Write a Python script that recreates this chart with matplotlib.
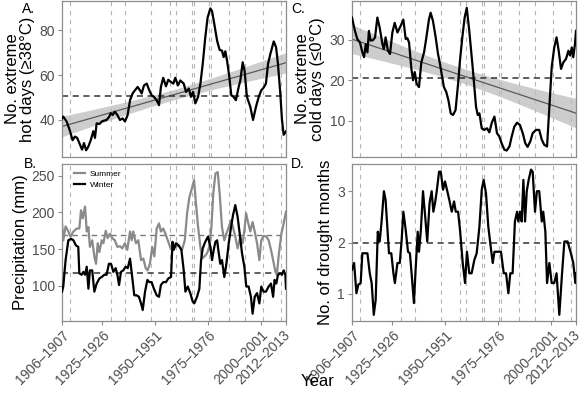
import numpy as np
import matplotlib
matplotlib.use("Agg")
import matplotlib.pyplot as plt
from matplotlib.transforms import ScaledTranslation

plt.rcParams['font.family'] = ['Liberation Sans', 'DejaVu Sans']

# ---------------- data ----------------
hot_years = [1906.0, 1906.6, 1908.2, 1909.8, 1911.0, 1912.1, 1913.2, 1914.5, 1915.5, 1916.4, 1917.4, 1918.5,
             1919.6, 1920.8, 1921.6, 1922.4, 1923.7, 1924.8, 1925.9, 1927.1, 1928.4, 1929.0, 1930.0, 1931.0,
             1932.2, 1933.4, 1934.7, 1935.8, 1937.0, 1938.2, 1939.4, 1940.5, 1941.8, 1942.9, 1943.7, 1944.8,
             1946.1, 1947.3, 1948.4, 1949.5, 1950.8, 1951.9, 1952.8, 1953.9, 1955.2, 1956.3, 1957.6, 1958.7,
             1959.6, 1960.9, 1962.0, 1963.6, 1964.7, 1966.0, 1967.0, 1968.0, 1969.1, 1970.4, 1971.5, 1972.6,
             1973.8, 1974.9, 1976.2, 1977.0, 1978.1, 1979.4, 1980.6, 1981.7, 1982.5, 1983.3, 1984.1, 1985.2,
             1986.1, 1987.2, 1988.3, 1989.6, 1990.4, 1991.5, 1992.4, 1993.5, 1995.1, 1996.4, 1997.8, 1999.1,
             2000.3, 2001.4, 2002.5, 2003.5, 2004.6, 2006.2, 2007.3, 2008.2, 2009.3, 2010.1, 2010.9, 2012.0]
hot_days = [40.7, 41.5, 39.3, 35.0, 31.0, 32.6, 32.0, 29.0, 26.8, 29.7, 26.5, 28.2,
            31.0, 35.0, 32.0, 38.5, 38.2, 39.3, 39.7, 40.0, 41.5, 43.0, 42.2, 43.7,
            42.2, 40.0, 40.7, 39.3, 42.0, 48.8, 51.8, 53.2, 54.7, 53.2, 51.8, 55.4,
            56.2, 53.2, 51.0, 50.3, 48.8, 46.6, 54.7, 58.8, 55.0, 57.9, 56.9, 56.2,
            58.8, 55.4, 57.6, 56.2, 52.5, 54.0, 50.3, 52.5, 47.4, 50.3, 56.2, 65.0,
            76.8, 85.6, 89.7, 88.5, 82.6, 75.3, 71.2, 70.9, 68.0, 70.6, 66.5, 59.1,
            51.0, 50.3, 48.8, 54.7, 57.6, 65.7, 62.0, 50.3, 45.9, 40.0, 45.9, 50.3,
            53.2, 54.4, 56.2, 65.0, 69.4, 75.0, 72.4, 65.0, 51.8, 40.0, 33.4, 34.9]

cold_years = [1906.0, 1907.4, 1908.5, 1909.8, 1910.9, 1911.7, 1912.5, 1913.3, 1914.0, 1914.8, 1915.9, 1916.9,
              1918.0, 1919.1, 1920.4, 1921.1, 1921.9, 1923.0, 1924.0, 1925.1, 1926.2, 1927.5, 1929.0, 1930.3,
              1931.4, 1932.2, 1933.0, 1934.1, 1934.9, 1935.7, 1936.6, 1937.7, 1938.8, 1940.1, 1941.2, 1942.4,
              1943.2, 1944.3, 1945.6, 1946.7, 1947.5, 1948.4, 1949.5, 1950.6, 1951.6, 1952.7, 1953.8, 1955.0,
              1956.2, 1957.1, 1958.2, 1959.3, 1960.3, 1961.5, 1963.1, 1964.7, 1965.5, 1966.3, 1967.4, 1968.6,
              1969.9, 1971.0, 1972.1, 1973.4, 1974.6, 1975.7, 1976.8, 1978.1, 1979.2, 1980.5, 1981.6, 1982.8,
              1984.1, 1985.5, 1986.8, 1988.0, 1989.1, 1990.4, 1991.5, 1993.1, 1994.6, 1995.8, 1997.0, 1998.3,
              1999.4, 2000.5, 2001.7, 2002.8, 2003.8, 2004.9, 2006.0, 2007.3, 2008.4, 2009.2, 2010.0, 2010.7,
              2011.5, 2012.0]
cold_days = [35.5, 32.2, 30.2, 29.3, 26.9, 25.7, 28.9, 26.9, 32.2, 29.8, 29.9, 30.6,
             35.5, 33.0, 28.9, 27.7, 30.6, 27.3, 26.5, 31.8, 34.2, 31.8, 33.4, 35.0,
             30.2, 30.4, 29.3, 22.8, 20.0, 22.0, 19.1, 18.3, 24.4, 26.9, 30.6, 35.0,
             36.7, 34.7, 30.6, 26.5, 24.4, 21.6, 18.3, 17.1, 15.1, 11.8, 11.4, 12.6,
             19.1, 24.9, 30.6, 35.5, 37.9, 32.2, 23.2, 13.4, 11.4, 11.8, 8.1, 7.7,
             8.1, 7.1, 9.4, 11.0, 6.9, 6.1, 4.4, 2.8, 2.6, 3.6, 6.1, 8.5,
             9.5, 8.9, 6.9, 4.4, 3.5, 4.9, 6.9, 7.7, 7.7, 5.3, 4.0, 3.6,
             13.4, 23.2, 28.1, 30.6, 27.3, 22.8, 24.4, 25.3, 27.3, 26.1, 28.1, 25.7,
             28.9, 32.2]

summer_years = [1906.0, 1906.6, 1907.7, 1909.0, 1910.0, 1911.4, 1913.0, 1914.2, 1915.0, 1915.8, 1916.9, 1917.7,
                1918.5, 1919.2, 1920.3, 1921.3, 1922.1, 1922.9, 1923.7, 1924.8, 1925.6, 1926.7, 1927.6, 1928.7,
                1929.8, 1931.0, 1932.2, 1933.4, 1934.5, 1935.8, 1936.9, 1938.2, 1939.0, 1939.7, 1941.0, 1942.1,
                1943.4, 1944.5, 1945.6, 1946.5, 1947.6, 1948.7, 1949.7, 1950.8, 1951.9, 1952.8, 1953.9, 1955.2,
                1956.3, 1957.4, 1958.7, 1959.6, 1961.2, 1962.8, 1964.1, 1965.2, 1966.3, 1967.5, 1968.5, 1969.4,
                1970.4, 1971.5, 1972.3, 1973.4, 1974.6, 1975.7, 1976.7, 1977.6, 1978.6, 1979.7, 1980.6, 1981.7,
                1982.8, 1983.8, 1984.9, 1986.0, 1986.9, 1988.0, 1989.1, 1990.4, 1991.5, 1992.4, 1993.1, 1994.0,
                1995.1, 1996.2, 1997.2, 1998.3, 1999.4, 2000.3, 2001.4, 2002.7, 2003.8, 2004.9, 2005.9, 2007.0,
                2007.7, 2008.5, 2009.8, 2010.9, 2012.0]
summer_precip = [185, 162, 181, 174, 167, 174, 178, 178, 203, 192, 208, 174,
                 180, 153, 162, 140, 130, 158, 146, 162, 158, 175, 165, 171,
                 165, 162, 153, 154, 151, 158, 149, 174, 162, 174, 158, 162,
                 135, 137, 124, 121, 130, 153, 140, 178, 185, 174, 178, 169,
                 160, 151, 158, 153, 155, 149, 162, 199, 221, 233, 244, 212,
                 180, 153, 137, 140, 144, 153, 180, 226, 253, 255, 226, 180,
                 162, 171, 180, 189, 180, 167, 151, 167, 158, 178, 199, 187,
                 174, 187, 174, 158, 135, 162, 168, 167, 162, 149, 135, 119,
                 115, 140, 171, 185, 201]

winter_years = [1906.0, 1906.6, 1907.7, 1909.0, 1910.3, 1911.4, 1912.6, 1913.7, 1914.2, 1915.3, 1916.1, 1916.9,
                1917.7, 1918.5, 1919.2, 1920.3, 1921.3, 1922.4, 1923.7, 1924.8, 1926.0, 1927.1, 1928.2, 1929.2,
                1930.3, 1931.4, 1932.2, 1933.0, 1933.9, 1935.0, 1936.1, 1937.1, 1938.2, 1939.3, 1940.2, 1941.3,
                1942.4, 1943.4, 1944.2, 1945.3, 1946.4, 1947.3, 1948.4, 1949.5, 1950.8, 1951.9, 1952.8, 1953.9,
                1955.2, 1956.3, 1957.6, 1958.3, 1958.9, 1960.0, 1961.2, 1962.5, 1963.6, 1964.4, 1965.5, 1966.7,
                1967.8, 1968.6, 1969.9, 1971.0, 1971.8, 1972.6, 1973.8, 1975.1, 1976.2, 1977.0, 1977.8, 1978.6,
                1979.4, 1980.1, 1980.9, 1981.7, 1982.8, 1983.8, 1984.9, 1986.0, 1986.9, 1988.0, 1989.1, 1990.1,
                1991.2, 1992.3, 1993.2, 1994.3, 1995.4, 1996.2, 1997.2, 1998.3, 1999.4, 2000.3, 2001.4, 2002.5,
                2003.8, 2004.9, 2005.9, 2006.6, 2007.4, 2008.2, 2009.3, 2010.1, 2010.9, 2011.7, 2012.0]
winter_precip = [92, 99, 135, 162, 164, 162, 155, 153, 117, 115, 119, 115,
                 126, 96, 121, 121, 92, 103, 110, 112, 115, 115, 130, 130,
                 119, 124, 115, 101, 119, 121, 126, 124, 137, 110, 87, 87,
                 85, 76, 67, 92, 108, 105, 105, 96, 87, 85, 101, 105,
                 105, 110, 112, 160, 149, 158, 155, 149, 121, 92, 99, 90,
                 79, 76, 85, 96, 135, 151, 160, 167, 153, 135, 149, 160,
                 162, 146, 130, 135, 112, 130, 158, 180, 196, 210, 194, 171,
                 144, 126, 99, 99, 85, 62, 85, 90, 76, 99, 92, 92,
                 99, 103, 85, 108, 103, 115, 117, 115, 121, 115, 96]

drought_years = [1906.0, 1907.0, 1908.1, 1909.0, 1910.1, 1910.9, 1912.2, 1913.3, 1914.4, 1915.3, 1916.3, 1917.2,
                 1918.2, 1919.1, 1920.0, 1921.1, 1921.9, 1922.7, 1923.5, 1924.6, 1925.6, 1926.3, 1927.5, 1928.6,
                 1929.5, 1930.3, 1931.4, 1932.5, 1933.4, 1934.2, 1935.3, 1936.1, 1937.1, 1937.7, 1938.6, 1939.6,
                 1940.5, 1941.6, 1942.7, 1943.7, 1944.5, 1945.3, 1946.1, 1947.2, 1948.0, 1949.1, 1950.0, 1951.1,
                 1952.2, 1953.2, 1954.3, 1955.1, 1956.2, 1957.1, 1958.4, 1959.5, 1960.4, 1961.5, 1962.6, 1963.9,
                 1965.0, 1966.3, 1967.4, 1968.3, 1969.4, 1970.5, 1971.8, 1972.6, 1973.4, 1974.9, 1976.5, 1977.8,
                 1978.9, 1980.0, 1980.9, 1982.0, 1983.1, 1984.1, 1984.7, 1985.5, 1986.3, 1987.1, 1987.9, 1988.7,
                 1989.6, 1990.7, 1991.5, 1992.6, 1993.5, 1994.6, 1995.8, 1996.5, 1997.5, 1998.3, 1999.4, 2000.5,
                 2001.7, 2002.8, 2004.1, 2005.4, 2006.5, 2008.0, 2009.6, 2010.7, 2011.7, 2012.0]
drought_months = [1.47, 1.6, 1.01, 1.18, 1.21, 1.79, 1.79, 1.79, 1.4, 1.21, 0.59, 0.88,
                  2.21, 2.02, 2.41, 3.0, 2.83, 2.31, 1.79, 1.79, 1.4, 1.21, 1.6, 1.6,
                  2.05, 2.6, 2.25, 1.82, 1.79, 1.4, 0.82, 1.47, 2.21, 1.82, 2.25, 3.0,
                  2.57, 2.02, 2.77, 3.0, 2.6, 2.77, 3.0, 3.38, 3.38, 3.03, 3.19, 3.0,
                  2.8, 2.6, 2.8, 2.6, 2.6, 2.25, 1.6, 1.21, 1.82, 1.4, 1.4, 1.66,
                  1.79, 2.31, 3.03, 3.22, 2.96, 2.31, 1.86, 1.6, 1.82, 1.82, 1.82, 1.4,
                  1.4, 1.01, 1.4, 1.4, 2.41, 2.6, 2.41, 2.6, 2.41, 3.22, 2.41, 3.0,
                  3.22, 3.42, 3.38, 2.6, 3.0, 3.0, 2.41, 2.6, 2.21, 1.21, 1.6, 1.21,
                  1.21, 1.4, 0.59, 1.4, 2.02, 2.02, 1.79, 1.6, 1.21, 1.4]

event_years = [1910, 1929, 1936, 1948, 1957, 1960, 1967.5, 1968.6, 1975.4, 1976.5, 1984.8, 1992.7, 2001, 2009.7]
tick_years = [1906, 1925, 1950, 1975, 2000, 2012]
tick_labels = ['1906\u20131907', '1925\u20131926', '1950\u20131951', '1975\u20131976', '2000\u20132001', '2012\u20132013']

hot_mean = 50.6
cold_mean = 20.6
summer_mean = 169
winter_mean = 117
drought_mean = 2.0

# ---------------- figure ----------------
W, H = 582, 396
fig = plt.figure(figsize=(W / 100, H / 100), dpi=100)

def ax_at(l, t, r, b):
    return fig.add_axes([l / W, 1 - b / H, (r - l) / W, (b - t) / H])

axA = ax_at(62, 1, 286, 157)
axB = ax_at(62, 164, 286, 321)
axC = ax_at(352, 1, 576, 157)
axD = ax_at(352, 164, 576, 321)

XMIN, XMAX = 1906, 2012
tick_col = '#4d4d4d'
frame_col = '#8c8c8c'


def style(ax, ylim, yticks, show_x):
    ax.set_xlim(XMIN, XMAX)
    ax.set_ylim(*ylim)
    ax.set_yticks(yticks)
    for s in ax.spines.values():
        s.set_color(frame_col)
        s.set_linewidth(0.9)
    ax.tick_params(axis='y', colors=tick_col, labelsize=10, length=3, width=0.8, pad=2)
    ax.tick_params(axis='y', color=frame_col)
    for y in event_years:
        ax.axvline(y, color='#b5b5b5', lw=0.8, ls=(0, (4, 4)), zorder=0)
    if show_x:
        ax.set_xticks(tick_years)
        ax.set_xticklabels(tick_labels, rotation=45, ha='right', rotation_mode='anchor')
        ax.tick_params(axis='x', colors=tick_col, labelsize=10, length=3, width=0.8, pad=2, color=frame_col)
        last = ax.get_xticklabels()[-1]
        last.set_transform(last.get_transform() + ScaledTranslation(-3 / 100, 0, fig.dpi_scale_trans))
    else:
        ax.set_xticks([])


def trend(ax, x, y):
    x = np.asarray(x, float)
    y = np.asarray(y, float)
    n = len(x)
    b, a = np.polyfit(x, y, 1)
    xs = np.linspace(XMIN, XMAX, 100)
    yfit = a + b * xs
    resid = y - (a + b * x)
    s = np.sqrt(np.sum(resid ** 2) / (n - 2))
    se = s * np.sqrt(1 / n + (xs - x.mean()) ** 2 / np.sum((x - x.mean()) ** 2))
    ax.fill_between(xs, yfit - 1.98 * se, yfit + 1.98 * se, color='#bdbdbd', alpha=0.75, lw=0, zorder=1)
    ax.plot(xs, yfit, color='#5a5a5a', lw=0.9, zorder=2)


# Panel A
style(axA, (23.5, 93), [40, 60, 80], False)
trend(axA, hot_years, hot_days)
axA.axhline(hot_mean, color='#333333', lw=1.1, ls=(0, (4, 3)), zorder=2)
axA.plot(hot_years, hot_days, color='black', lw=1.6, zorder=3)
axA.set_ylabel('No. extreme\nhot days (\u226538\u00b0C)', fontsize=12, labelpad=3, linespacing=1.0)

# Panel C
style(axC, (1.0, 39.6), [10, 20, 30], False)
trend(axC, cold_years, cold_days)
axC.axhline(cold_mean, color='#333333', lw=1.1, ls=(0, (4, 3)), zorder=2)
axC.plot(cold_years, cold_days, color='black', lw=1.6, zorder=3)
axC.set_ylabel('No. extreme\ncold days (\u22640\u00b0C)', fontsize=12, labelpad=3, linespacing=1.0)

# Panel B
style(axB, (52, 266), [100, 150, 200, 250], True)
axB.axhline(summer_mean, color='#7a7a7a', lw=1.0, ls=(0, (4, 3)), zorder=2)
axB.axhline(winter_mean, color='#333333', lw=1.1, ls=(0, (4, 3)), zorder=2)
axB.plot(summer_years, summer_precip, color='#8a8a8a', lw=1.6, zorder=3, label='Summer')
axB.plot(winter_years, winter_precip, color='black', lw=1.6, zorder=4, label='Winter')
axB.set_ylabel('Precipitation (mm)', fontsize=12, labelpad=3)
axB.legend(loc='upper left', frameon=False, fontsize=6, handlelength=1.4, handletextpad=0.5,
           borderaxespad=0.2, labelspacing=0.35, bbox_to_anchor=(0.03, 0.99))

# Panel D
style(axD, (0.47, 3.53), [1, 2, 3], True)
axD.axhline(drought_mean, color='#333333', lw=1.1, ls=(0, (4, 3)), zorder=2)
axD.plot(drought_years, drought_months, color='black', lw=1.6, zorder=3)
axD.set_ylabel('No. of drought months', fontsize=12, labelpad=3)

# panel letters
for lab, (px, py) in zip(['A.', 'B.', 'C.', 'D.'], [(22, 2), (24, 157), (291, 2), (291, 157)]):
    fig.text(px / W, 1 - py / H, lab, fontsize=10, ha='left', va='top')

fig.text(318 / W, 1 - 381 / H, 'Year', fontsize=12, ha='center', va='center')

fig.savefig('out.png', dpi=100)
